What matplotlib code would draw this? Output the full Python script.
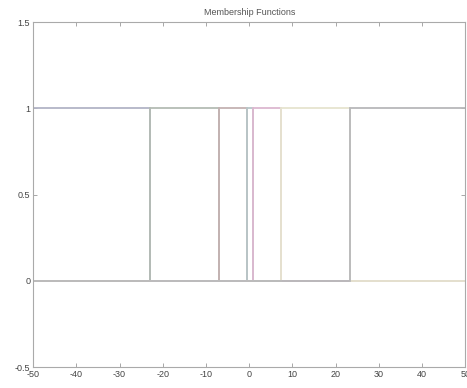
import matplotlib
matplotlib.use("Agg")
import matplotlib.pyplot as plt

# Crisp (rectangular) membership functions: interval [start, end] where value is 1
mf_starts = [-50, -23, -7, -0.5, 0.8, 7.3, 23.2]
mf_ends = [-23, -7, -0.5, 0.8, 7.3, 23.2, 50]
x_min, x_max = -50, 50
title = "Membership Functions"
x_ticks = [-50, -40, -30, -20, -10, 0, 10, 20, 30, 40, 50]
y_ticks = [-0.5, 0, 0.5, 1, 1.5]
y_tick_labels = ['-0.5', '0', '0.5', '1', '1.5']

# faded MATLAB-like colour order (b, g, r, c, m, y, k)
colors = ['#b2b4c6', '#b4bcb4', '#c4b2b2', '#b8c6c8', '#dcb8d0', '#e6e4cf', '#b8b8ba']

plt.rcParams['font.family'] = ['Liberation Sans', 'DejaVu Sans']

fig = plt.figure(figsize=(4.67, 3.88), dpi=100)
ax = fig.add_axes([0.0707, 0.054, 0.926, 0.889])

for s, e, c in zip(mf_starts, mf_ends, colors):
    xs, ys = [], []
    if s > x_min:
        xs += [x_min, s]
        ys += [0, 0]
    xs += [s, e]
    ys += [1, 1]
    if e < x_max:
        xs += [e, x_max]
        ys += [0, 0]
    ax.plot(xs, ys, color=c, lw=1.3, solid_joinstyle='miter')

ax.set_xlim(x_min, x_max)
ax.set_ylim(-0.5, 1.5)
ax.set_xticks(x_ticks)
ax.set_yticks(y_ticks)
ax.set_xticklabels([str(t) for t in x_ticks])
ax.set_yticklabels(y_tick_labels)
ax.tick_params(direction='in', length=3, width=0.6, colors='#999999',
               labelcolor='#444444', labelsize=6.5, top=True, right=True, pad=2)
for sp in ax.spines.values():
    sp.set_color('#aaaaaa')
    sp.set_linewidth(0.8)
ax.set_title(title, fontsize=6.5, color='#555555', pad=5)

fig.savefig("out.png", dpi=100)
